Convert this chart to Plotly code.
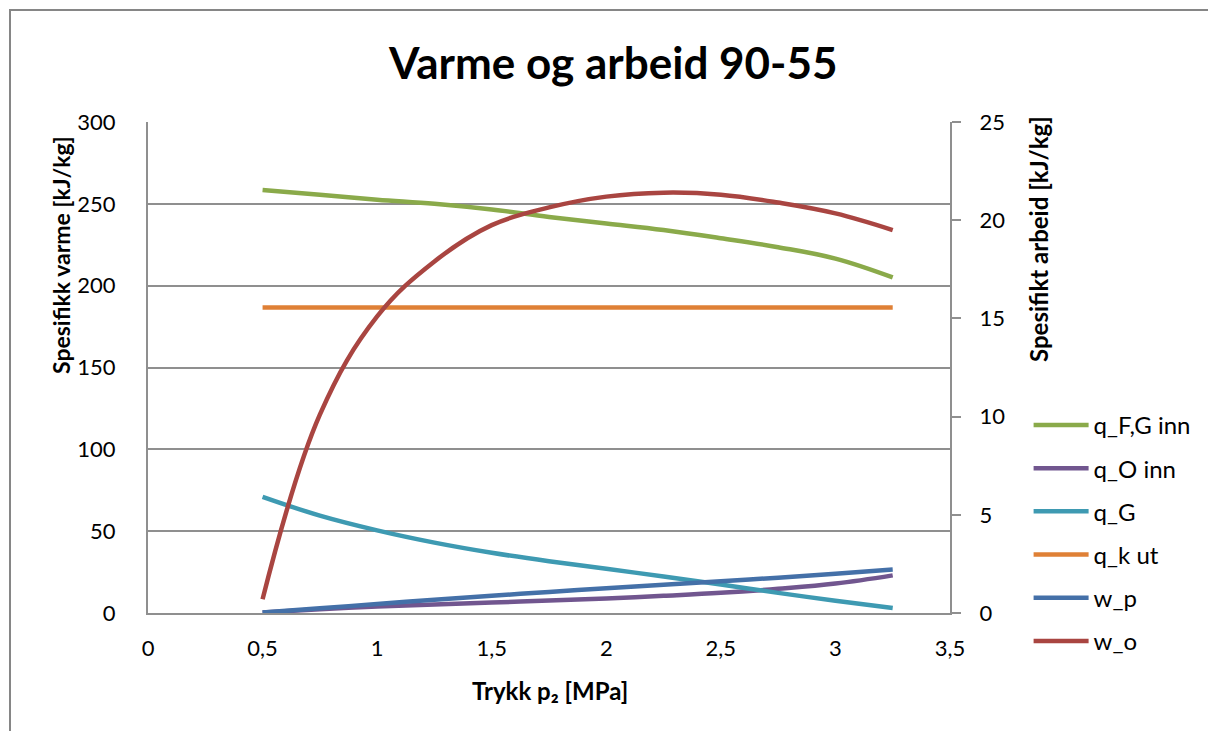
import plotly.graph_objects as go

# Pressure p2 [MPa]
pressure = [0.5, 0.75, 1.0, 1.25, 1.5, 1.75, 2.0, 2.25, 2.5, 2.75, 3.0, 3.25]

# Specific heat [kJ/kg] (left axis)
q_fg_inn = [258.5, 255.5, 252.5, 250.0, 246.5, 242.0, 238.0, 234.0, 229.0, 223.5, 216.5, 205.0]
q_o_inn = [0.3, 2.3, 3.9, 5.2, 6.4, 7.6, 8.9, 10.5, 12.3, 14.8, 18.0, 23.0]
q_g = [71.0, 59.5, 50.5, 43.0, 36.8, 31.6, 27.0, 22.3, 17.4, 12.3, 7.5, 3.1]
q_k_ut = [186.7] * len(pressure)

# Specific work [kJ/kg] (right axis)
w_p = [0.02, 0.24, 0.46, 0.68, 0.88, 1.07, 1.26, 1.44, 1.62, 1.80, 2.00, 2.21]
w_o = [0.7, 10.1, 15.1, 17.9, 19.75, 20.65, 21.2, 21.4, 21.3, 20.9, 20.35, 19.5]

x_ticks = [0, 0.5, 1, 1.5, 2, 2.5, 3, 3.5]
x_tick_text = ["0", "0,5", "1", "1,5", "2", "2,5", "3", "3,5"]

FONT = "Lato, 'Open Sans', sans-serif"
GRID = "#8f8f8f"

series = [
    ("q_F,G inn", q_fg_inn, "#8aaa4a", "y"),
    ("q_O inn", q_o_inn, "#71568f", "y"),
    ("q_G", q_g, "#3e9ab2", "y"),
    ("q_k ut", q_k_ut, "#df8036", "y"),
    ("w_p", w_p, "#4470a8", "y2"),
    ("w_o", w_o, "#a94541", "y2"),
]

fig = go.Figure()
for i, (name, vals, color, axis) in enumerate(series):
    fig.add_trace(go.Scatter(
        x=pressure, y=vals, name=name, yaxis=axis, mode="lines",
        line=dict(color=color, width=4.5, shape="spline", smoothing=1.1),
        legendgroup=f"g{i}",
    ))

fig.update_layout(
    width=1208, height=731,
    margin=dict(l=148, r=258, t=122, b=118),
    paper_bgcolor="white", plot_bgcolor="white",
    font=dict(family=FONT, size=22, color="#000000"),
    showlegend=True,
    legend=dict(
        x=1.098, xanchor="left", y=0.428, yanchor="top",
        font=dict(size=24), tracegroupgap=9, itemwidth=55,
        bgcolor="rgba(0,0,0,0)",
    ),
    xaxis=dict(
        range=[0, 3.5], tickvals=x_ticks, ticktext=x_tick_text,
        showgrid=False, zeroline=False,
        showline=True, linecolor=GRID, linewidth=2,
        ticks="", ticklabelstandoff=15,
    ),
    yaxis=dict(
        range=[0, 300], dtick=50,
        showgrid=True, gridcolor=GRID, gridwidth=1.5,
        zeroline=False, showline=True, linecolor=GRID, linewidth=2,
        ticks="", ticklabelstandoff=26,
    ),
    yaxis2=dict(
        range=[0, 25], dtick=5, overlaying="y", side="right",
        showgrid=False, zeroline=False,
        showline=True, linecolor=GRID, linewidth=2,
        ticks="outside", ticklen=9, tickcolor=GRID, tickwidth=1.5,
        ticklabelstandoff=14,
    ),
    annotations=[
        dict(text="<b>Varme og arbeid 90-55</b>", xref="paper", yref="paper",
             x=(613 - 148) / 802, y=(613 - 62) / 491, showarrow=False,
             xanchor="center", yanchor="middle", font=dict(size=44)),
        dict(text="<b>Spesifikk varme [kJ/kg]</b>", xref="paper", yref="paper",
             x=(61 - 148) / 802, y=(613 - 255) / 491, showarrow=False,
             textangle=-90, xanchor="center", yanchor="middle",
             font=dict(size=23)),
        dict(text="<b>Spesifikt arbeid [kJ/kg]</b>", xref="paper", yref="paper",
             x=(1038 - 148) / 802, y=(613 - 239) / 491, showarrow=False,
             textangle=-90, xanchor="center", yanchor="middle",
             font=dict(size=24)),
        dict(text="<b>Trykk p₂ [MPa]</b>", xref="paper", yref="paper",
             x=(550 - 148) / 802, y=(613 - 690) / 491, showarrow=False,
             xanchor="center", yanchor="middle", font=dict(size=24)),
    ],
    shapes=[
        dict(type="rect", xref="paper", yref="paper",
             x0=(10 - 148) / 802, x1=(1230 - 148) / 802,
             y0=(613 - 760) / 491, y1=(613 - 10) / 491,
             line=dict(color="#868686", width=2), fillcolor="rgba(0,0,0,0)",
             layer="below"),
    ],
)

fig.write_html("out.html")
